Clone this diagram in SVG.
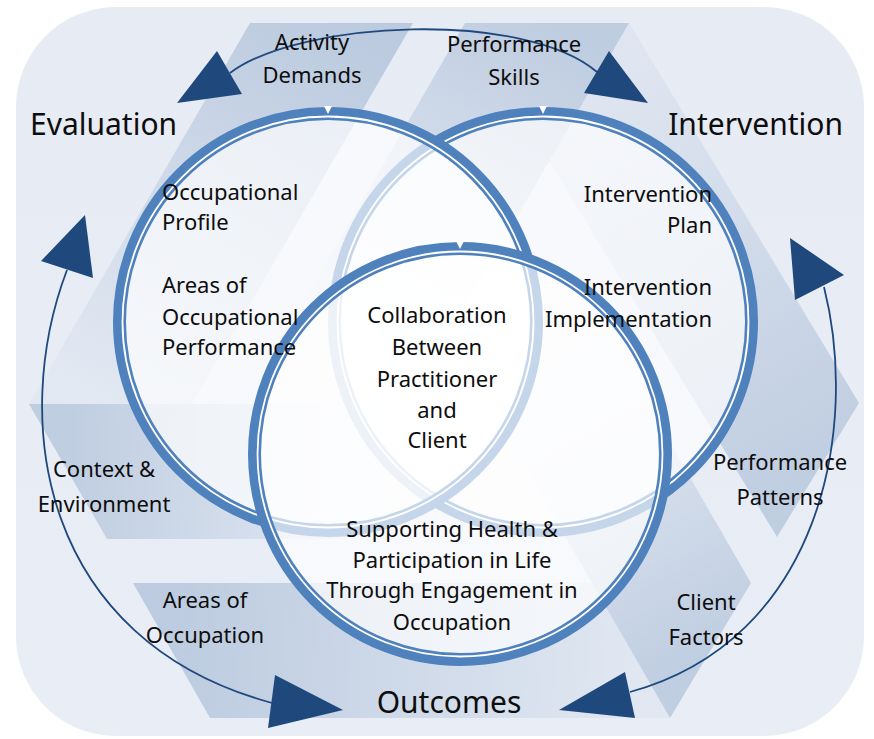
<svg xmlns="http://www.w3.org/2000/svg" width="874" height="739" viewBox="0 0 874 739">
<defs>
<style>
.lbl{font-family:'Noto Sans','DejaVu Sans',sans-serif;font-size:22px;fill:#0d0d0d}
.big{font-size:30px}
.mid{text-anchor:middle}
.end{text-anchor:end}
.ring{fill:none;stroke:#4f81bd;stroke-width:13}
.gap{fill:none;stroke:#ffffff;stroke-width:1.8}
.veil{fill:#ffffff;fill-opacity:0.68}
.notch{fill:#ffffff}
.conn{fill:none;stroke:#1f497d;stroke-width:1.8}
.head{fill:#1f497d}
</style>
<linearGradient id="bgG" x1="0" y1="0" x2="0" y2="1">
<stop offset="0" stop-color="#e6ebf4"/><stop offset="1" stop-color="#e9eef6"/>
</linearGradient>
<linearGradient id="gAD" gradientUnits="userSpaceOnUse" x1="331" y1="23" x2="111" y2="404">
<stop offset="0" stop-color="#a5b9d4" stop-opacity="0.65"/><stop offset="1" stop-color="#a5b9d4" stop-opacity="0.08"/>
</linearGradient>
<linearGradient id="gPS" gradientUnits="userSpaceOnUse" x1="547" y1="23" x2="357" y2="352">
<stop offset="0" stop-color="#a5b9d4" stop-opacity="0.6"/><stop offset="1" stop-color="#a5b9d4" stop-opacity="0"/>
</linearGradient>
<linearGradient id="gPP" gradientUnits="userSpaceOnUse" x1="818" y1="470" x2="598" y2="89">
<stop offset="0" stop-color="#a5b9d4" stop-opacity="0.6"/><stop offset="1" stop-color="#a5b9d4" stop-opacity="0.12"/>
</linearGradient>
<linearGradient id="gCF" gradientUnits="userSpaceOnUse" x1="710" y1="650" x2="535" y2="347">
<stop offset="0" stop-color="#a5b9d4" stop-opacity="0.6"/><stop offset="1" stop-color="#a5b9d4" stop-opacity="0"/>
</linearGradient>
<linearGradient id="gAO" gradientUnits="userSpaceOnUse" x1="170" y1="0" x2="640" y2="0">
<stop offset="0" stop-color="#a5b9d4" stop-opacity="0.65"/><stop offset="1" stop-color="#a5b9d4" stop-opacity="0.12"/>
</linearGradient>
<linearGradient id="gCE" gradientUnits="userSpaceOnUse" x1="68" y1="0" x2="420" y2="0">
<stop offset="0" stop-color="#a5b9d4" stop-opacity="0.6"/><stop offset="1" stop-color="#a5b9d4" stop-opacity="0"/>
</linearGradient>
</defs>

<g id="background">
<rect x="16" y="7" width="848" height="729" rx="100" ry="100" fill="url(#bgG)"/>
<polygon points="250,23 413,23 192,404 29,404" fill="url(#gAD)"/>
<polygon points="465,23 629,23 439,352 275,352" fill="url(#gPS)"/>
<polygon points="629,23 859,403 777,537 549,161" fill="url(#gPP)"/>
<polygon points="751,583 670,718 495,415 576,280" fill="url(#gCF)"/>
<polygon points="133,583 210,718 670,718 592,583" fill="url(#gAO)"/>
<polygon points="29,404 107,539 460,539 460,404" fill="url(#gCE)"/>
</g>

<g id="circle-intervention">
<circle class="veil" cx="543" cy="322" r="213"/>
<circle class="ring" cx="543" cy="322" r="208.5"/>
<circle class="gap" cx="543" cy="322" r="205.5"/>
<polygon class="notch" points="539,106 547,106 543,114"/>
</g>

<g id="circle-evaluation">
<circle class="veil" cx="328" cy="322" r="213"/>
<circle class="ring" cx="328" cy="322" r="208.5"/>
<circle class="gap" cx="328" cy="322" r="205.5"/>
<polygon class="notch" points="324,106 332,106 328,114"/>
</g>

<g id="circle-outcomes">
<circle class="veil" cx="460" cy="454" r="210"/>
<circle class="ring" cx="460" cy="454" r="205.5"/>
<circle class="gap" cx="460" cy="454" r="202.5"/>
<polygon class="notch" points="456,241 464,241 460,249"/>
</g>

<g id="connectors">
<path class="conn" d="M230,73 C300,20 525,10 597,72"/>
<polygon class="head" points="217,51 242,94 177,103"/>
<polygon class="head" points="609,51 584,93 648,103"/>
<path class="conn" d="M67,270 C10,420 40,640 272,703"/>
<polygon class="head" points="85,215 41,261 93,278"/>
<polygon class="head" points="275,675 268,728 343,710"/>
<path class="conn" d="M824,287 C860,430 820,640 630,692"/>
<polygon class="head" points="790,238 795,300 844,275"/>
<polygon class="head" points="625,672 635,718 559,710"/>
</g>

<g id="label-evaluation"><text class="lbl big" x="30" y="135">Evaluation</text></g>
<g id="label-intervention"><text class="lbl big end" x="843" y="135">Intervention</text></g>
<g id="label-outcomes"><text class="lbl big mid" x="449" y="713">Outcomes</text></g>

<g id="label-activity-demands"><text class="lbl mid" x="312" y="50">Activity<tspan x="312" y="83">Demands</tspan></text></g>
<g id="label-performance-skills"><text class="lbl mid" x="514" y="52">Performance<tspan x="514" y="85">Skills</tspan></text></g>
<g id="label-context"><text class="lbl mid" x="104" y="477">Context &amp;<tspan x="104" y="512">Environment</tspan></text></g>
<g id="label-areas-occupation"><text class="lbl mid" x="205" y="608">Areas of<tspan x="205" y="643">Occupation</tspan></text></g>
<g id="label-performance-patterns"><text class="lbl mid" x="780" y="470">Performance<tspan x="780" y="505">Patterns</tspan></text></g>
<g id="label-client-factors"><text class="lbl mid" x="706" y="610">Client<tspan x="706" y="645">Factors</tspan></text></g>

<g id="text-evaluation">
<text class="lbl" x="162" y="200">Occupational<tspan x="162" y="230">Profile</tspan></text>
<text class="lbl" x="162" y="293">Areas of<tspan x="162" y="325">Occupational</tspan><tspan x="162" y="355">Performance</tspan></text>
</g>
<g id="text-intervention">
<text class="lbl end" x="712" y="202">Intervention<tspan x="712" y="233">Plan</tspan></text>
<text class="lbl end" x="712" y="295">Intervention<tspan x="712" y="327">Implementation</tspan></text>
</g>
<g id="text-center">
<text class="lbl mid" x="437" y="323">Collaboration<tspan x="437" y="355">Between</tspan><tspan x="437" y="387">Practitioner</tspan><tspan x="437" y="418">and</tspan><tspan x="437" y="448">Client</tspan></text>
</g>
<g id="text-outcomes">
<text class="lbl mid" x="452" y="537">Supporting Health &amp;<tspan x="452" y="568">Participation in Life</tspan><tspan x="452" y="598">Through Engagement in</tspan><tspan x="452" y="630">Occupation</tspan></text>
</g>
</svg>
